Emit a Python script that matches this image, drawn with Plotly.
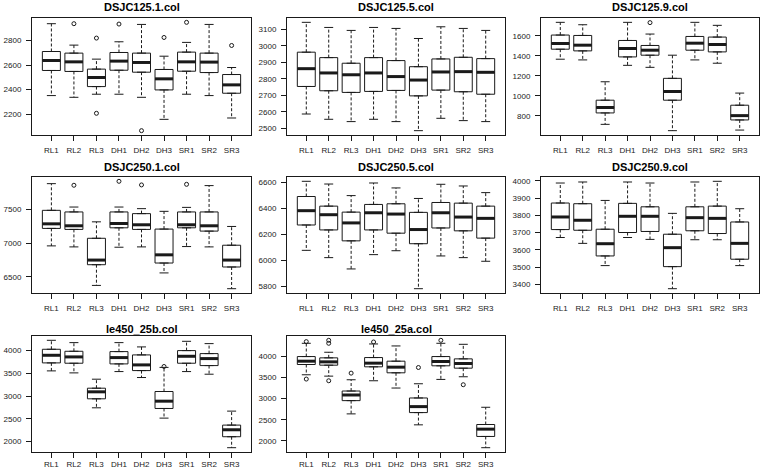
import plotly.graph_objects as go

CATS = ["RL1", "RL2", "RL3", "DH1", "DH2", "DH3", "SR1", "SR2", "SR3"]
TITLES = ["DSJC125.1.col", "DSJC125.5.col", "DSJC125.9.col",
          "DSJC250.1.col", "DSJC250.5.col", "DSJC250.9.col",
          "le450_25b.col", "le450_25a.col"]

# ---- DSJC125.1.col
p1_lo  = [2352, 2338, 2363, 2363, 2338, 2159, 2363, 2352, 2170]
p1_q1  = [2556, 2548, 2425, 2558, 2542, 2398, 2550, 2539, 2371]
p1_med = [2637, 2626, 2499, 2632, 2621, 2488, 2626, 2624, 2439]
p1_q3  = [2710, 2697, 2567, 2702, 2697, 2564, 2705, 2697, 2523]
p1_hi  = [2936, 2762, 2648, 2789, 2930, 2672, 2784, 2930, 2580]
p1_out_x = ["RL2", "RL3", "RL3", "DH1", "DH2", "DH3", "SR1", "SR3"]
p1_out_y = [2936, 2819, 2208, 2933, 2067, 2824, 2947, 2759]
p1_ticks = [2200, 2400, 2600, 2800]

# ---- DSJC125.5.col
p2_lo  = [2587, 2555, 2541, 2555, 2541, 2486, 2561, 2547, 2541]
p2_q1  = [2754, 2728, 2718, 2724, 2730, 2697, 2732, 2722, 2707]
p2_med = [2862, 2836, 2825, 2836, 2814, 2793, 2842, 2844, 2840]
p2_q3  = [2962, 2929, 2895, 2929, 2911, 2874, 2921, 2931, 2923]
p2_hi  = [3143, 3112, 3094, 3112, 3106, 3045, 3116, 3106, 3094]
p2_out_x = []
p2_out_y = []
p2_ticks = [2500, 2600, 2700, 2800, 2900, 3000, 3100]

# ---- DSJC125.9.col
p3_lo  = [1366, 1359, 716, 1305, 1285, 653, 1359, 1326, 659]
p3_q1  = [1466, 1449, 830, 1389, 1406, 957, 1456, 1439, 760]
p3_med = [1523, 1506, 884, 1473, 1456, 1044, 1526, 1513, 803]
p3_q3  = [1607, 1603, 957, 1553, 1503, 1175, 1593, 1587, 907]
p3_hi  = [1734, 1710, 1141, 1734, 1617, 1406, 1734, 1704, 1028]
p3_out_x = ["DH2"]
p3_out_y = [1731]
p3_ticks = [800, 1000, 1200, 1400, 1600]

# ---- DSJC250.1.col
p4_lo  = [6961, 6946, 6373, 6941, 6946, 6559, 6951, 6946, 6324]
p4_q1  = [7221, 7206, 6681, 7230, 7206, 6706, 7230, 7181, 6647]
p4_med = [7289, 7260, 6750, 7294, 7275, 6828, 7275, 7260, 6750]
p4_q3  = [7490, 7466, 7074, 7466, 7441, 7211, 7466, 7466, 6971]
p4_hi  = [7887, 7539, 7319, 7539, 7515, 7475, 7534, 7858, 7250]
p4_out_x = ["RL2", "DH1", "DH2", "SR1"]
p4_out_y = [7863, 7922, 7868, 7877]
p4_ticks = [6500, 7000, 7500]

# ---- DSJC250.5.col
p5_lo  = [6077, 6021, 5934, 6044, 6074, 5782, 6034, 6021, 5993]
p5_q1  = [6272, 6234, 6150, 6234, 6209, 6128, 6249, 6227, 6171]
p5_med = [6382, 6351, 6288, 6366, 6356, 6237, 6366, 6333, 6323]
p5_q3  = [6491, 6417, 6371, 6430, 6435, 6369, 6445, 6440, 6417]
p5_hi  = [6608, 6587, 6498, 6595, 6557, 6476, 6585, 6572, 6521]
p5_out_x = []
p5_out_y = []
p5_ticks = [5800, 6000, 6200, 6400, 6600]

# ---- DSJC250.9.col
p6_lo  = [3672, 3638, 3509, 3672, 3661, 3375, 3659, 3659, 3509]
p6_q1  = [3718, 3714, 3565, 3701, 3707, 3503, 3711, 3695, 3546]
p6_med = [3791, 3772, 3636, 3795, 3795, 3613, 3787, 3783, 3638]
p6_q3  = [3872, 3868, 3720, 3870, 3850, 3691, 3850, 3854, 3762]
p6_hi  = [3988, 3994, 3887, 3994, 3988, 3812, 3994, 3998, 3839]
p6_out_x = []
p6_out_y = []
p6_ticks = [3400, 3500, 3600, 3700, 3800, 3900, 4000]

# ---- le450_25b.col
p7_lo  = [3553, 3509, 2740, 3538, 3407, 2513, 3538, 3480, 1861]
p7_q1  = [3729, 3722, 2938, 3707, 3560, 2725, 3722, 3670, 2103]
p7_med = [3897, 3861, 3092, 3846, 3685, 2886, 3875, 3824, 2256]
p7_q3  = [4029, 3985, 3172, 3978, 3905, 3099, 4000, 3934, 2359]
p7_hi  = [4227, 4176, 3370, 4176, 4081, 3630, 4205, 4154, 2667]
p7_out_x = ["DH3"]
p7_out_y = [3650]
p7_ticks = [2000, 2500, 3000, 3500, 4000]

# ---- le450_25a.col
p8_lo  = [3567, 3535, 2638, 3425, 3252, 2378, 3457, 3520, 1835]
p8_q1  = [3811, 3795, 2953, 3756, 3614, 2669, 3780, 3724, 2102]
p8_med = [3890, 3874, 3087, 3843, 3748, 2811, 3882, 3835, 2276]
p8_q3  = [4000, 3969, 3181, 3976, 3890, 3016, 4000, 3945, 2386]
p8_hi  = [4315, 4102, 3449, 4299, 4252, 3354, 4315, 4291, 2795]
p8_out_x = ["RL1", "RL1", "RL2", "RL2", "RL2", "RL3", "DH1", "DH3", "SR1", "SR2"]
p8_out_y = [4354, 3465, 4386, 4315, 3425, 3606, 4346, 3740, 4386, 3331]
p8_ticks = [2000, 2500, 3000, 3500, 4000]

panels = [
    (p1_lo, p1_q1, p1_med, p1_q3, p1_hi, p1_out_x, p1_out_y, p1_ticks),
    (p2_lo, p2_q1, p2_med, p2_q3, p2_hi, p2_out_x, p2_out_y, p2_ticks),
    (p3_lo, p3_q1, p3_med, p3_q3, p3_hi, p3_out_x, p3_out_y, p3_ticks),
    (p4_lo, p4_q1, p4_med, p4_q3, p4_hi, p4_out_x, p4_out_y, p4_ticks),
    (p5_lo, p5_q1, p5_med, p5_q3, p5_hi, p5_out_x, p5_out_y, p5_ticks),
    (p6_lo, p6_q1, p6_med, p6_q3, p6_hi, p6_out_x, p6_out_y, p6_ticks),
    (p7_lo, p7_q1, p7_med, p7_q3, p7_hi, p7_out_x, p7_out_y, p7_ticks),
    (p8_lo, p8_q1, p8_med, p8_q3, p8_hi, p8_out_x, p8_out_y, p8_ticks),
]

W, H = 763, 476
COL_PX = [(32, 251), (287, 505), (541, 759)]
ROW_PX = [(18, 135), (177, 293), (336, 452)]
TITLE_PX = [7.5, 167, 329]
XSTANDOFF = [2, 2, -1]
FONT = "Liberation Sans, Arial, sans-serif"
INK = "#1a1a1a"

fig = go.Figure()
layout = {}
pos = list(range(1, len(CATS) + 1))
annotations = []

for k, (lo, q1, med, q3, hi, ox, oy, ticks) in enumerate(panels):
    r, c = divmod(k, 3)
    sfx = "" if k == 0 else str(k + 1)
    xr, yr = "x" + sfx, "y" + sfx
    common = dict(xaxis=xr, yaxis=yr, showlegend=False, hoverinfo="skip")

    # whiskers (dashed)
    wx, wy = [], []
    for i in range(len(CATS)):
        wx += [pos[i], pos[i], None, pos[i], pos[i], None]
        wy += [q3[i], hi[i], None, q1[i], lo[i], None]
    fig.add_trace(go.Scatter(x=wx, y=wy, mode="lines",
                             line=dict(color=INK, width=1, dash="3px,2px"), **common))
    # staples
    sx, sy = [], []
    for i in range(len(CATS)):
        for v in (hi[i], lo[i]):
            sx += [pos[i] - 0.2, pos[i] + 0.2, None]
            sy += [v, v, None]
    fig.add_trace(go.Scatter(x=sx, y=sy, mode="lines",
                             line=dict(color=INK, width=1), **common))
    # boxes
    fig.add_trace(go.Box(x=pos, q1=q1, median=med, q3=q3,
                         lowerfence=q1, upperfence=q3, width=0.8,
                         fillcolor="white", line=dict(color=INK, width=1),
                         boxpoints=False, xaxis=xr, yaxis=yr, showlegend=False,
                         hoverinfo="skip"))
    # thick medians
    mx, my = [], []
    for i in range(len(CATS)):
        mx += [pos[i] - 0.4, pos[i] + 0.4, None]
        my += [med[i], med[i], None]
    fig.add_trace(go.Scatter(x=mx, y=my, mode="lines",
                             line=dict(color=INK, width=3), **common))
    # outliers
    if ox:
        fig.add_trace(go.Scatter(x=[pos[CATS.index(n)] for n in ox], y=oy,
                                 mode="markers",
                                 marker=dict(symbol="circle-open", size=4,
                                             color=INK, line=dict(width=1)),
                                 **common))

    vals = lo + hi + oy
    vmin, vmax = min(vals), max(vals)
    ext = 0.04 * (vmax - vmin)
    x0, x1 = COL_PX[c]
    y0, y1 = ROW_PX[r]
    axfont = dict(family=FONT, size=8, color=INK)
    layout["xaxis" + sfx] = dict(
        domain=[x0 / W, x1 / W], anchor=yr, range=[0.14, 9.86],
        tickmode="array", tickvals=pos, ticktext=CATS,
        ticks="outside", ticklen=5, tickcolor=INK, tickwidth=1,
        showline=True, mirror=True, linecolor=INK, linewidth=1,
        showgrid=False, zeroline=False, tickfont=axfont,
        ticklabelstandoff=XSTANDOFF[r], fixedrange=True)
    layout["yaxis" + sfx] = dict(
        domain=[1 - y1 / H, 1 - y0 / H], anchor=xr,
        range=[vmin - ext, vmax + ext],
        tickmode="array", tickvals=ticks, ticktext=[str(t) for t in ticks],
        ticks="outside", ticklen=5, tickcolor=INK, tickwidth=1,
        showline=True, mirror=True, linecolor=INK, linewidth=1,
        showgrid=False, zeroline=False, tickfont=axfont,
        ticklabelstandoff=3, fixedrange=True)
    annotations.append(dict(
        text="<b>" + TITLES[k] + "</b>", xref="paper", yref="paper",
        x=(x0 + x1) / 2 / W, y=1 - TITLE_PX[r] / H,
        xanchor="center", yanchor="middle", showarrow=False,
        font=dict(family=FONT, size=11, color="black")))

fig.update_layout(**layout)
fig.update_layout(width=W, height=H, margin=dict(l=0, r=0, t=0, b=0),
                  paper_bgcolor="white", plot_bgcolor="white",
                  annotations=annotations, showlegend=False)
fig.write_html("out.html")
